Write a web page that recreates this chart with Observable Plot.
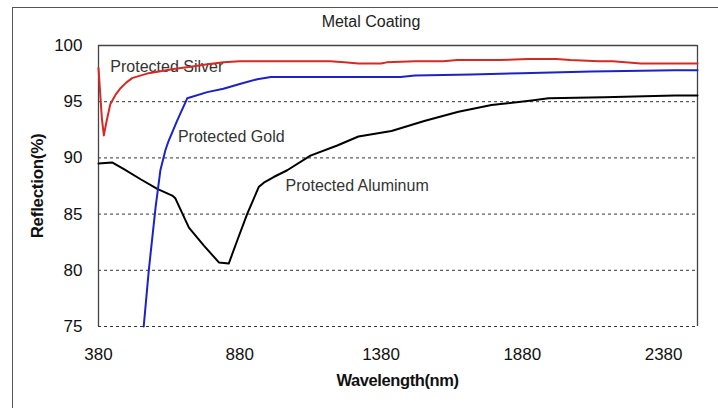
<!DOCTYPE html>
<html>
<head>
<meta charset="utf-8">
<script src="https://cdn.jsdelivr.net/npm/d3@7"></script>
<script src="https://cdn.jsdelivr.net/npm/@observablehq/plot@0.6"></script>
<style>
  html, body { margin: 0; padding: 0; background: #fff; }
  #wrap { position: relative; width: 718px; height: 408px; overflow: hidden; font-family: "Liberation Sans", Arial, sans-serif; }
  #border { position: absolute; left: 12px; top: 7px; width: 800px; height: 500px; border-left: 1.5px solid #555; border-top: 1.5px solid #555; }
  #title { position: absolute; left: 0; width: 742px; top: 13px; text-align: center; font-size: 16px; color: #222; }
  #xlabel { position: absolute; left: 0; width: 795px; top: 371px; text-align: center; font-size: 16.5px; font-weight: bold; letter-spacing: -0.4px; color: #111; }
  #ylabel { position: absolute; left: 38px; top: 186px; transform: translate(-50%, -50%) rotate(-90deg); white-space: nowrap; font-size: 17px; font-weight: bold; letter-spacing: -0.3px; color: #111; }
  #chart { position: absolute; left: 0; top: 0; }
</style>
</head>
<body>
<div id="wrap">
  <div id="border"></div>
  <div id="chart"></div>
  <div id="title">Metal Coating</div>
  <div id="xlabel">Wavelength(nm)</div>
  <div id="ylabel">Reflection(%)</div>
</div>
<script>
// Protected Silver (red)
const silverWl = [380, 384, 392, 399, 408, 422, 440, 458, 478, 499, 525, 552, 600, 645, 706, 760, 822, 880, 1000, 1100, 1200, 1250, 1300, 1380, 1400, 1500, 1600, 1650, 1800, 1900, 2000, 2050, 2150, 2200, 2300, 2500];
const silverR  = [98.0, 96.5, 93.5, 92.0, 93.2, 94.8, 95.6, 96.2, 96.7, 97.1, 97.3, 97.5, 97.7, 97.9, 98.1, 98.3, 98.5, 98.6, 98.6, 98.6, 98.6, 98.5, 98.4, 98.4, 98.5, 98.6, 98.6, 98.7, 98.7, 98.8, 98.8, 98.7, 98.6, 98.6, 98.4, 98.4];

// Protected Gold (blue)
const goldWl = [540, 558, 582, 599, 617, 628, 658, 694, 765, 822, 883, 942, 990, 1200, 1449, 1500, 1700, 1877, 2125, 2419, 2500];
const goldR  = [75.0, 80.0, 85.6, 88.9, 90.7, 91.5, 93.3, 95.3, 95.85, 96.15, 96.6, 97.0, 97.2, 97.2, 97.2, 97.33, 97.42, 97.54, 97.69, 97.8, 97.8];

// Protected Aluminum (black)
const alumWl = [380, 428, 470, 529, 588, 641, 652, 700, 753, 806, 841, 871, 906, 947, 965, 1000, 1048, 1130, 1225, 1300, 1417, 1536, 1654, 1771, 1913, 1973, 2170, 2420, 2500];
const alumR  = [89.5, 89.6, 89.0, 88.1, 87.25, 86.65, 86.4, 83.8, 82.2, 80.7, 80.6, 82.65, 85.0, 87.4, 87.8, 88.3, 88.9, 90.2, 91.1, 91.9, 92.4, 93.3, 94.1, 94.7, 95.1, 95.3, 95.4, 95.55, 95.55];

const xTicks = [380, 880, 1380, 1880, 2380];
const yTicks = [75, 80, 85, 90, 95, 100];
const gridY = [75, 80, 85, 90, 95];
const xDomain = [380, 2500];
const yDomain = [75, 100];

const seriesNames = ["Protected Silver", "Protected Gold", "Protected Aluminum"];
const seriesColors = ["#d42a24", "#1c22c4", "#000000"];
const labelWl = [422, 661, 1042];
const labelR = [98.08, 91.85, 87.55];

const toRows = (wl, r, name) => wl.map((w, i) => ({wl: w, r: r[i], name}));
const silver = toRows(silverWl, silverR, seriesNames[0]);
const gold = toRows(goldWl, goldR, seriesNames[1]);
const alum = toRows(alumWl, alumR, seriesNames[2]);
const labels = seriesNames.map((n, i) => ({name: n, wl: labelWl[i], r: labelR[i]}));

const chart = Plot.plot({
  width: 718,
  height: 408,
  marginLeft: 98,
  marginRight: 21,
  marginTop: 45,
  marginBottom: 82,
  style: {fontFamily: "'Liberation Sans', Arial, sans-serif", background: "transparent", overflow: "visible", color: "#111"},
  x: {domain: xDomain, ticks: xTicks, tickSize: 0, tickPadding: 21, label: null, tickFormat: d => String(d)},
  y: {domain: yDomain, ticks: yTicks, tickSize: 0, tickPadding: 16, label: null},
  marks: [
    Plot.ruleY(gridY, {stroke: "#333", strokeDasharray: "3,3", strokeWidth: 1}),
    Plot.ruleY([yDomain[1]], {stroke: "#444", strokeWidth: 1.3}),
    Plot.ruleX(xDomain, {stroke: "#444", strokeWidth: 1.3}),
    Plot.text(labels, {x: "wl", y: "r", text: "name", textAnchor: "start", lineAnchor: "middle", fontSize: 16, fill: "#333"}),
    Plot.line(alum, {x: "wl", y: "r", stroke: seriesColors[2], strokeWidth: 2}),
    Plot.line(gold, {x: "wl", y: "r", stroke: seriesColors[1], strokeWidth: 2}),
    Plot.line(silver, {x: "wl", y: "r", stroke: seriesColors[0], strokeWidth: 2}),
    Plot.axisX({ticks: xTicks, tickSize: 0, tickPadding: 21, label: null, fontSize: 17, tickFormat: d => String(d)}),
    Plot.axisY({ticks: yTicks, tickSize: 0, tickPadding: 16, label: null, fontSize: 17})
  ]
});
document.getElementById("chart").appendChild(chart);
</script>
</body>
</html>
